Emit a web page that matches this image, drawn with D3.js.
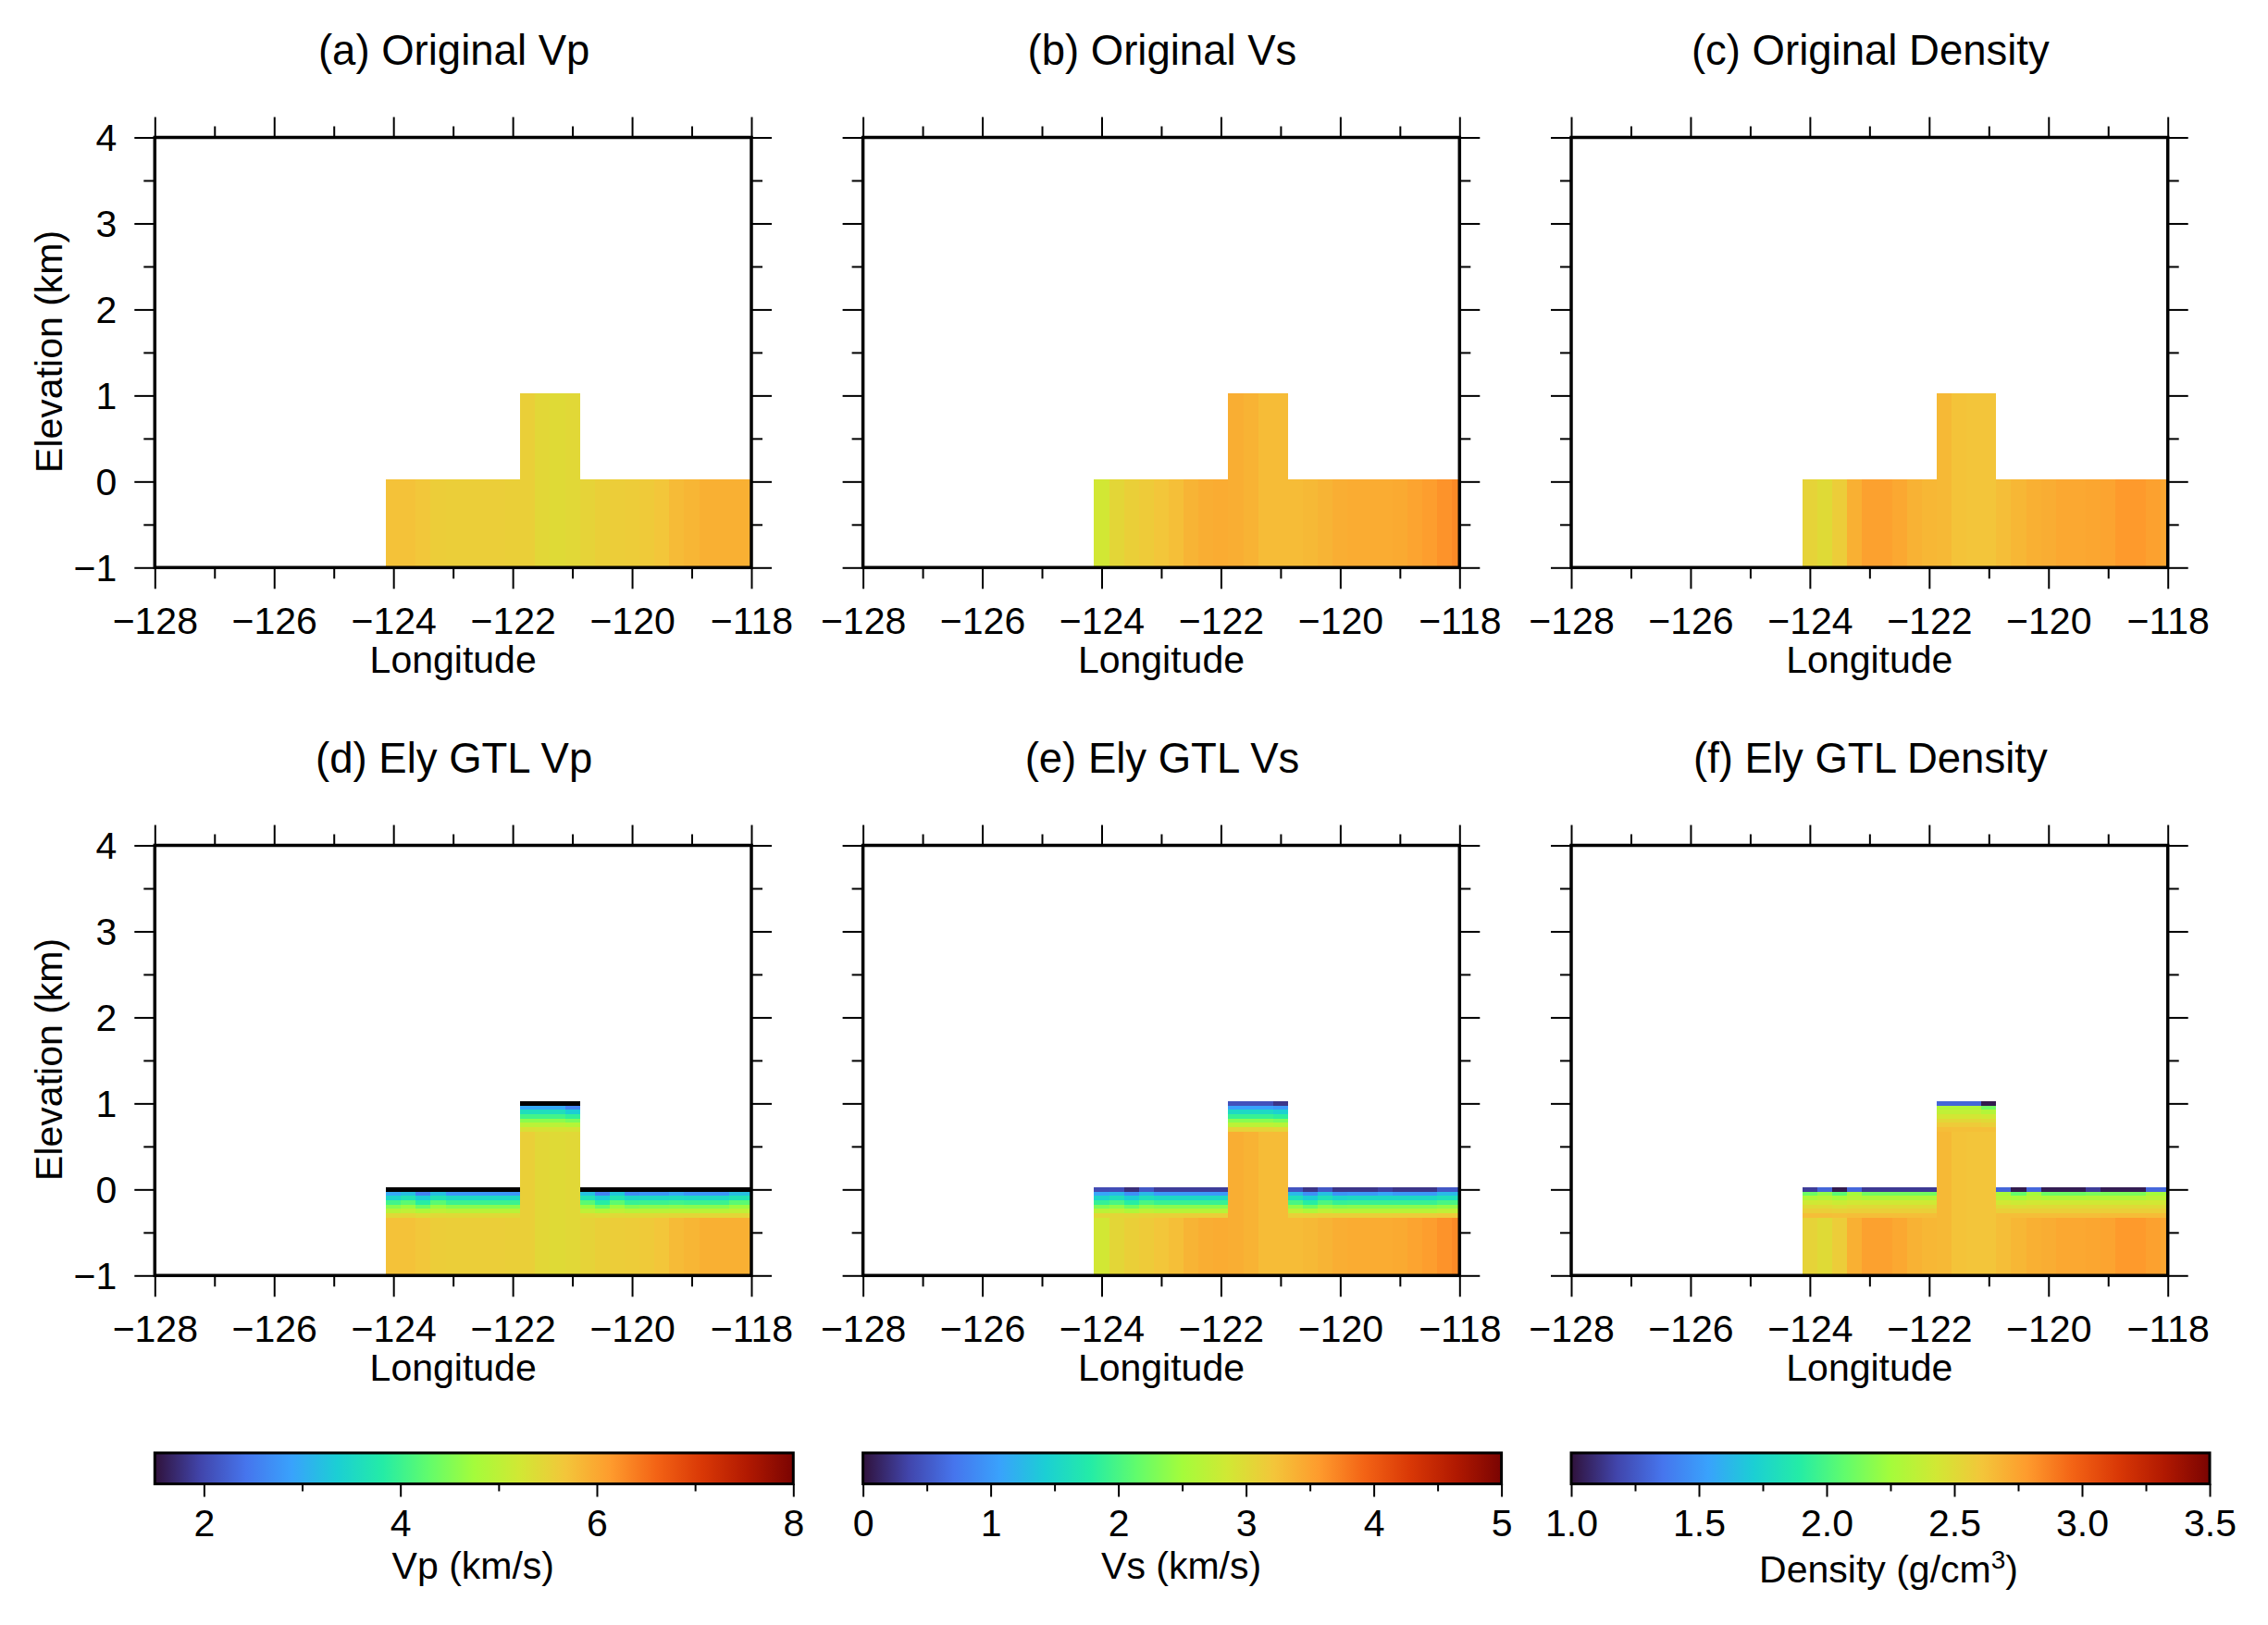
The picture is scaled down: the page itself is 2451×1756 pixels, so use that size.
<!DOCTYPE html>
<html>
<head>
<meta charset="utf-8">
<script src="https://cdn.jsdelivr.net/npm/d3@7"></script>
<style>
  body { margin: 0; background: #fff; }
  text { font-family: "Liberation Sans", Arial, sans-serif; fill: #000; }
</style>
</head>
<body>
<div id="chart"></div>
<script>
// model grid: longitude of each column and the surface elevation under it (km)
var lons = [-124,-123.75,-123.5,-123.25,-123,-122.75,-122.5,-122.25,-122,-121.75,-121.5,-121.25,-121,-120.75,-120.5,-120.25,-120,-119.75,-119.5,-119.25,-119,-118.75,-118.5,-118.25,-118];
var surface = [0,0,0,0,0,0,0,0,0,1,1,1,1,0,0,0,0,0,0,0,0,0,0,0,0];
var gtlDepths = [0,0.05,0.1,0.15,0.2,0.25,0.3];

// original model, one value per column
var vpOriginal = [5.72,5.72,5.66,5.58,5.57,5.57,5.57,5.57,5.56,5.56,5.45,5.40,5.43,5.50,5.55,5.58,5.60,5.62,5.68,5.80,5.85,5.92,5.92,5.92,5.92];
var vsOriginal = [2.87,3.05,3.12,3.16,3.21,3.27,3.36,3.41,3.43,3.41,3.37,3.30,3.30,3.30,3.32,3.36,3.41,3.43,3.43,3.43,3.45,3.50,3.55,3.62,3.68];
var rhoOriginal = [2.54,2.50,2.57,2.70,2.76,2.76,2.73,2.69,2.67,2.66,2.62,2.61,2.61,2.64,2.67,2.70,2.71,2.73,2.73,2.74,2.75,2.79,2.79,2.76,2.74];

// Ely GTL rows, top of the column downwards, one list per depth
var vpGtl = [
  [1.2,1.2,1.2,1.2,1.2,1.2,1.2,1.2,1.2,1.2,1.2,1.2,1.2,1.2,1.2,1.2,1.2,1.2,1.2,1.2,1.2,1.2,1.2,1.2,1.2],
  [2.96,3.19,2.57,3.19,2.77,2.77,2.77,2.77,2.77,2.96,2.96,2.96,2.57,3.22,2.57,3.30,2.68,2.77,2.77,2.96,2.77,2.77,2.77,3.19,3.19],
  [3.45,3.68,3.35,3.68,3.52,3.52,3.52,3.52,3.52,3.60,3.60,3.60,3.35,3.68,3.35,3.72,3.48,3.52,3.52,3.56,3.52,3.52,3.52,3.68,3.68],
  [4.04,4.23,3.84,4.23,4.00,4.00,4.00,4.00,4.00,4.06,4.06,4.06,3.92,4.23,3.84,4.25,3.96,4.00,4.00,4.04,4.00,4.00,4.00,4.23,4.23],
  [4.55,4.69,4.36,4.69,4.55,4.55,4.55,4.55,4.55,4.58,4.58,4.58,4.45,4.69,4.36,4.70,4.50,4.55,4.55,4.58,4.55,4.55,4.55,4.69,4.69],
  [4.95,5.04,4.88,5.04,4.98,4.98,4.98,4.98,4.98,4.98,4.98,4.98,4.92,5.04,4.88,5.04,4.96,4.98,4.98,5.00,4.98,4.98,4.98,5.04,5.04],
  [5.42,5.44,5.36,5.42,5.40,5.40,5.40,5.40,5.40,5.32,5.30,5.28,5.28,5.40,5.36,5.42,5.40,5.40,5.42,5.44,5.46,5.46,5.46,5.46,5.46]
];
var vsGtl = [
  [0.40,0.42,0.20,0.50,0.30,0.30,0.30,0.30,0.30,0.45,0.45,0.45,0.25,0.47,0.25,0.50,0.25,0.25,0.25,0.33,0.25,0.25,0.25,0.50,0.50],
  [1.10,1.25,0.92,1.25,1.00,1.00,1.00,1.00,1.00,1.08,1.08,1.08,1.00,1.25,0.92,1.30,0.95,1.00,1.00,1.10,1.00,1.00,1.00,1.25,1.25],
  [1.50,1.62,1.42,1.62,1.55,1.55,1.55,1.55,1.55,1.55,1.55,1.55,1.45,1.62,1.42,1.65,1.50,1.55,1.55,1.55,1.55,1.55,1.55,1.62,1.62],
  [1.88,2.00,1.80,2.00,1.90,1.90,1.90,1.90,1.90,1.90,1.90,1.90,1.84,2.00,1.80,2.02,1.88,1.90,1.90,1.90,1.90,1.90,1.90,2.00,2.00],
  [2.30,2.40,2.20,2.40,2.35,2.35,2.35,2.35,2.35,2.35,2.35,2.35,2.28,2.40,2.20,2.40,2.33,2.35,2.35,2.35,2.35,2.35,2.35,2.40,2.40],
  [2.68,2.72,2.60,2.72,2.66,2.66,2.66,2.66,2.66,2.68,2.68,2.68,2.64,2.72,2.60,2.72,2.66,2.66,2.66,2.66,2.66,2.66,2.66,2.72,2.72],
  [3.02,3.05,3.05,3.08,3.10,3.10,3.12,3.12,3.12,3.08,3.08,3.08,3.05,3.10,3.10,3.12,3.12,3.12,3.12,3.12,3.14,3.14,3.14,3.16,3.16]
];
var rhoGtl = [
  [1.15,1.30,1.03,1.31,1.14,1.14,1.14,1.14,1.14,1.30,1.30,1.30,1.03,1.30,1.03,1.31,1.04,1.04,1.04,1.15,1.04,1.04,1.04,1.31,1.31],
  [2.10,2.20,2.05,2.25,2.12,2.12,2.12,2.12,2.12,2.30,2.30,2.30,2.12,2.27,2.08,2.25,2.10,2.10,2.10,2.14,2.14,2.14,2.14,2.25,2.25],
  [2.30,2.33,2.26,2.33,2.30,2.30,2.30,2.30,2.30,2.36,2.36,2.36,2.31,2.33,2.28,2.33,2.30,2.30,2.30,2.31,2.31,2.31,2.31,2.34,2.34],
  [2.42,2.43,2.40,2.43,2.42,2.42,2.42,2.42,2.42,2.44,2.44,2.44,2.42,2.43,2.41,2.43,2.42,2.42,2.42,2.42,2.42,2.42,2.42,2.43,2.43],
  [2.50,2.50,2.48,2.50,2.50,2.50,2.50,2.50,2.50,2.52,2.52,2.52,2.50,2.50,2.49,2.50,2.50,2.50,2.50,2.50,2.50,2.50,2.50,2.50,2.50],
  [2.56,2.56,2.55,2.56,2.56,2.56,2.56,2.56,2.56,2.58,2.58,2.58,2.56,2.56,2.56,2.56,2.56,2.56,2.56,2.56,2.56,2.56,2.56,2.56,2.56],
  [2.64,2.64,2.63,2.64,2.64,2.64,2.64,2.64,2.64,2.64,2.63,2.63,2.63,2.64,2.64,2.64,2.64,2.64,2.64,2.64,2.65,2.65,2.65,2.65,2.65]
];

// titles and tick labels
var topTitles = ["(a) Original Vp", "(b) Original Vs", "(c) Original Density"];
var bottomTitles = ["(d) Ely GTL Vp", "(e) Ely GTL Vs", "(f) Ely GTL Density"];
var lonMajor = [-128,-126,-124,-122,-120,-118];
var lonMinor = [-127,-125,-123,-121,-119];
var elevMajor = [-1,0,1,2,3,4];
var elevMinor = [-0.5,0.5,1.5,2.5,3.5];

var vpRange = [1.5, 8], vsRange = [0, 5], rhoRange = [1, 3.5];
var vpMajor = [2,4,6,8], vpMinor = [3,5,7];
var vsMajor = [0,1,2,3,4,5], vsMinor = [0.5,1.5,2.5,3.5,4.5];
var rhoMajor = [1,1.5,2,2.5,3,3.5], rhoMinor = [1.25,1.75,2.25,2.75,3.25];

var turboStops = ["#30123b","#4145ab","#4675ed","#39a2fc","#1bcfd4","#24eca6","#61fc6c","#a4fc3b","#d1e834","#f3c63a","#fe9b2d","#f36315","#d93806","#b11901","#7a0402"];

var W = 2451, H = 1756;
var colLeft = [167.3, 932.6, 1698], rowTop = [148.5, 913.5];
var panelW = 644.7, panelH = 464.8;
var barY = 1570, barH = 33.5, barW = 690;
var labelSize = 41;

var svg = d3.select("#chart").append("svg")
  .attr("width", W).attr("height", H)
  .style("display", "block");
svg.append("rect").attr("width", W).attr("height", H).attr("fill", "#fff");

var turbo = d3.scaleLinear()
  .domain(turboStops.map(function(d, i) { return i / (turboStops.length - 1); }))
  .range(turboStops);

function colorFor(v, range) {
  var t = (v - range[0]) / (range[1] - range[0]);
  if (t < 0) return "#000"; // below the scale
  return turbo(t);
}

function styleTicks(g) {
  g.select(".domain").remove();
  g.selectAll(".tick line").attr("stroke", "#000").attr("stroke-width", 2);
}

function drawPanel(left, top, title, original, gtl, range, showY) {
  var x = d3.scaleLinear().domain([-128, -118]).range([left, left + panelW]);
  var y = d3.scaleLinear().domain([-1, 4]).range([top + panelH, top]);
  var g = svg.append("g");
  var cells = [];

  lons.forEach(function(lon, i) {
    var x0 = x(lon - 0.125), x1 = x(Math.min(lon + 0.125, -118));
    var z = surface[i];
    var bottomOfLayers = z + 0.025;
    if (gtl) {
      gtlDepths.forEach(function(d, k) {
        cells.push({ x0: x0, x1: x1, top: z - d + 0.025, bottom: z - d - 0.025, v: gtl[k][i] });
      });
      bottomOfLayers = z - gtlDepths[gtlDepths.length - 1] - 0.025;
    }
    cells.push({ x0: x0, x1: x1, top: bottomOfLayers, bottom: -1, v: original[i] });
  });

  g.selectAll("rect.cell").data(cells).enter().append("rect")
    .attr("class", "cell")
    .attr("x", function(d) { return d.x0; })
    .attr("width", function(d) { return d.x1 - d.x0; })
    .attr("y", function(d) { return y(d.top); })
    .attr("height", function(d) { return y(d.bottom) - y(d.top); })
    .attr("fill", function(d) { return colorFor(d.v, range); })
    .attr("shape-rendering", "crispEdges");

  // ticks on all four sides, labels only bottom and (first column) left
  var bottomAxis = g.append("g").attr("transform", "translate(0," + (top + panelH) + ")")
    .call(d3.axisBottom(x).tickValues(lonMajor).tickSize(23).tickFormat(d3.format("d")));
  styleTicks(bottomAxis);
  bottomAxis.selectAll("text").attr("y", 71.7).attr("dy", 0).attr("font-size", labelSize);
  var bottomMinor = g.append("g").attr("transform", "translate(0," + (top + panelH) + ")")
    .call(d3.axisBottom(x).tickValues(lonMinor).tickSize(12).tickFormat(""));
  styleTicks(bottomMinor);

  var topAxis = g.append("g").attr("transform", "translate(0," + top + ")")
    .call(d3.axisTop(x).tickValues(lonMajor).tickSize(22).tickFormat(""));
  styleTicks(topAxis);
  var topMinor = g.append("g").attr("transform", "translate(0," + top + ")")
    .call(d3.axisTop(x).tickValues(lonMinor).tickSize(12).tickFormat(""));
  styleTicks(topMinor);

  var leftAxis = g.append("g").attr("transform", "translate(" + left + ",0)")
    .call(d3.axisLeft(y).tickValues(elevMajor).tickSize(22).tickFormat(showY ? d3.format("d") : ""));
  styleTicks(leftAxis);
  leftAxis.selectAll("text").attr("x", -41).attr("dy", 14.3).attr("font-size", labelSize);
  var leftMinor = g.append("g").attr("transform", "translate(" + left + ",0)")
    .call(d3.axisLeft(y).tickValues(elevMinor).tickSize(12).tickFormat(""));
  styleTicks(leftMinor);

  var rightAxis = g.append("g").attr("transform", "translate(" + (left + panelW) + ",0)")
    .call(d3.axisRight(y).tickValues(elevMajor).tickSize(22).tickFormat(""));
  styleTicks(rightAxis);
  var rightMinor = g.append("g").attr("transform", "translate(" + (left + panelW) + ",0)")
    .call(d3.axisRight(y).tickValues(elevMinor).tickSize(12).tickFormat(""));
  styleTicks(rightMinor);

  g.append("rect")
    .attr("x", left).attr("y", top)
    .attr("width", panelW).attr("height", panelH)
    .attr("fill", "none").attr("stroke", "#000").attr("stroke-width", 3.5);

  g.append("text")
    .attr("x", left + panelW / 2 + 1).attr("y", top - 78.5)
    .attr("text-anchor", "middle").attr("font-size", 45.5)
    .text(title);

  g.append("text")
    .attr("x", left + panelW / 2).attr("y", top + panelH + 113.4)
    .attr("text-anchor", "middle").attr("font-size", labelSize)
    .text("Longitude");

  if (showY) {
    g.append("text")
      .attr("transform", "translate(67," + (top + panelH / 2 - 1) + ") rotate(-90)")
      .attr("text-anchor", "middle").attr("font-size", labelSize)
      .text("Elevation (km)");
  }
}

function drawColorbar(left, range, major, minor, fmt, id) {
  var x = d3.scaleLinear().domain(range).range([left, left + barW]);
  var g = svg.append("g");

  var grad = svg.append("defs").append("linearGradient").attr("id", id);
  grad.selectAll("stop").data(turboStops).enter().append("stop")
    .attr("offset", function(d, i) { return i / (turboStops.length - 1); })
    .attr("stop-color", function(d) { return d; });

  g.append("rect")
    .attr("x", left).attr("y", barY).attr("width", barW).attr("height", barH)
    .attr("fill", "url(#" + id + ")")
    .attr("stroke", "#000").attr("stroke-width", 3);

  var majorAxis = g.append("g").attr("transform", "translate(0," + (barY + barH) + ")")
    .call(d3.axisBottom(x).tickValues(major).tickSize(14).tickFormat(d3.format(fmt)));
  styleTicks(majorAxis);
  majorAxis.selectAll("text").attr("y", 56.7).attr("dy", 0).attr("font-size", labelSize);
  var minorAxis = g.append("g").attr("transform", "translate(0," + (barY + barH) + ")")
    .call(d3.axisBottom(x).tickValues(minor).tickSize(8).tickFormat(""));
  styleTicks(minorAxis);
  return left + barW / 2;
}

var originals = [vpOriginal, vsOriginal, rhoOriginal];
var gtls = [vpGtl, vsGtl, rhoGtl];
var ranges = [vpRange, vsRange, rhoRange];

colLeft.forEach(function(left, c) {
  drawPanel(left, rowTop[0], topTitles[c], originals[c], null, ranges[c], c === 0);
  drawPanel(left, rowTop[1], bottomTitles[c], originals[c], gtls[c], ranges[c], c === 0);
});

var cx0 = drawColorbar(colLeft[0], vpRange, vpMajor, vpMinor, "d", "barVp");
var cx1 = drawColorbar(colLeft[1], vsRange, vsMajor, vsMinor, "d", "barVs");
var cx2 = drawColorbar(colLeft[2], rhoRange, rhoMajor, rhoMinor, ".1f", "barRho");

svg.append("text").attr("x", cx0 - 1).attr("y", 1706)
  .attr("text-anchor", "middle").attr("font-size", labelSize).text("Vp (km/s)");
svg.append("text").attr("x", cx1 - 1).attr("y", 1706)
  .attr("text-anchor", "middle").attr("font-size", labelSize).text("Vs (km/s)");

var rhoLabel = svg.append("text").attr("x", cx2 - 2).attr("y", 1710)
  .attr("text-anchor", "middle").attr("font-size", labelSize);
rhoLabel.append("tspan").text("Density (g/cm");
rhoLabel.append("tspan").attr("dy", -15).attr("font-size", 28).text("3");
rhoLabel.append("tspan").attr("dy", 15).text(")");
</script>
</body>
</html>
